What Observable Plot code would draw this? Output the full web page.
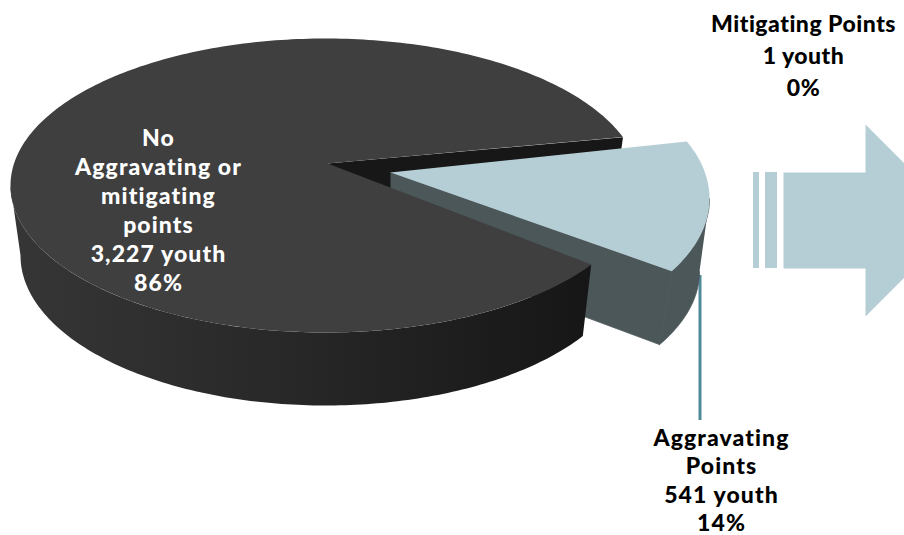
<!DOCTYPE html>
<html>
<head>
<meta charset="utf-8">
<style>
html,body{margin:0;padding:0;background:#fff;overflow:hidden}
svg text{letter-spacing:1.1px}
svg .tight text{letter-spacing:.5px}
</style>
<script src="https://cdn.jsdelivr.net/npm/d3@7"></script>
<script src="https://cdn.jsdelivr.net/npm/@observablehq/plot@0.6"></script>
</head>
<body>
<script>
// Youth counts and stated percentages per scoring outcome
const categories = ["No Aggravating or mitigating points", "Aggravating Points", "Mitigating Points"];
const youth = [3227, 541, 1];
const percents = [86, 14, 0];

const total = d3.sum(youth);
const sweep = youth.map(v => (v / total) * 360);

// Tilted-disc geometry: ellipse parameters for the top and underside of each slice
const rad = Math.PI / 180;
const mainStart = -19.2;
const mainFrom = mainStart + sweep[1];
const mainTo = mainStart + 360 - sweep[2];
const mainTop = {cx: 325, cy: 185, rx: 315, ry: 147};
const mainBase = {cx: 325, cy: 255, rx: 305, ry: 150};
const mainApex = [327, 163];

// The aggravating slice is pulled out, with a slightly different foreshortening
const wedgeStart = -22.5;
const wedgeEnd = wedgeStart + sweep[1];
const wedgeTop = {cx: 412, cy: 198, rx: 297, ry: 149};
const wedgeBase = {cx: 384, cy: 271, rx: 315, ry: 150};
const wedgeApex = [390, 172];
const depth = 72;

const onEllipse = (e, t) => ({x: e.cx + e.rx * Math.cos(t * rad), y: e.cy + e.ry * Math.sin(t * rad)});
const arc = (e, a, b, step = 1) => {
  const n = Math.max(1, Math.ceil(Math.abs(b - a) / step));
  return d3.range(n + 1).map(i => onEllipse(e, a + ((b - a) * i) / n));
};
const pt = ([x, y], dy = 0) => ({x, y: y + dy});

// Rims run from the slice's cut to the point where the disc's outline turns away
const mainRim = [...arc(mainTop, mainFrom, 180), ...arc(mainBase, 180, mainFrom)];
const mainCut = [pt(mainApex), onEllipse(mainTop, mainStart),
  onEllipse(mainBase, mainStart), pt(mainApex, depth)];
const mainFace = [pt(mainApex), ...arc(mainTop, mainFrom, mainTo)];
const wedgeRim = [...arc(wedgeTop, 0, wedgeEnd), ...arc(wedgeBase, wedgeEnd, 0)];
const wedgeCut = [pt(wedgeApex), onEllipse(wedgeTop, wedgeEnd),
  onEllipse(wedgeBase, wedgeEnd), pt(wedgeApex, depth)];
const wedgeFace = [pt(wedgeApex), ...arc(wedgeTop, wedgeStart, wedgeEnd)];

// Block arrow pointing right off the page, preceded by two stripes
const arrowFill = "#b5ced5";
const arrow = {left: 783, neck: 865, top: 172, bottom: 268, headTop: 124, headBottom: 316};
const arrowShape = [
  [arrow.left, arrow.top], [arrow.neck, arrow.top], [arrow.neck, arrow.headTop],
  [arrow.neck + (arrow.headBottom - arrow.headTop) / 2, (arrow.headTop + arrow.headBottom) / 2],
  [arrow.neck, arrow.headBottom], [arrow.neck, arrow.bottom], [arrow.left, arrow.bottom]
].map(([x, y]) => ({x, y}));
const stripes = [{x1: 753, x2: 759}, {x1: 765, x2: 777}];

// Horizontal shading of the large slice's rim, darkening toward the cut
const rimGradient = () => {
  const defs = d3.create("svg:defs");
  const g = defs.append("linearGradient").attr("id", "rim-shade")
    .attr("gradientUnits", "userSpaceOnUse")
    .attr("x1", 10).attr("x2", 590).attr("y1", 0).attr("y2", 0);
  [[0, "#363636"], [0.5, "#272727"], [1, "#161616"]].forEach(([o, c]) =>
    g.append("stop").attr("offset", o).attr("stop-color", c));
  return defs.node();
};

const polygon = (points, fill, stroke = "none") =>
  Plot.line(points, {x: "x", y: "y", fill, stroke, strokeWidth: 0.8});

const fmt = d3.format(",");
const labelFont = {fontFamily: "Lato", fontWeight: 900, fontSize: 23, textAnchor: "middle", lineAnchor: "middle"};
const label = (text, x, y, lineHeight, fill, className) =>
  Plot.text([text], {...labelFont, x: () => x, y: () => y, text: d => d, lineHeight, fill, className});

const mainLabel = ["No", "Aggravating or", "mitigating", "points", `${fmt(youth[0])} youth`, `${percents[0]}%`].join("\n");
const aggLabel = ["Aggravating", "Points", `${fmt(youth[1])} youth`, `${percents[1]}%`].join("\n");
const mitLabel = [categories[2], `${fmt(youth[2])} youth`, `${percents[2]}%`].join("\n");

const chart = Plot.plot({
  width: 904,
  height: 535,
  margin: 0,
  x: {domain: [0, 904], range: [0, 904], axis: null},
  y: {domain: [0, 535], range: [0, 535], axis: null},
  style: {background: "#fff"},
  marks: [
    rimGradient,
    // leader from the pulled-out slice to its label
    Plot.ruleX([699.5], {y1: 275, y2: 420, stroke: "#4f8a99", strokeWidth: 3}),
    polygon(mainCut, "#171717"),
    polygon(wedgeCut, "#4b5759", "#4b5759"),
    polygon(wedgeRim, "#4b5759", "#4b5759"),
    polygon(wedgeFace, arrowFill),
    polygon(mainRim, "url(#rim-shade)"),
    polygon(mainFace, "#3f3f3f"),
    Plot.rect(stripes, {x1: "x1", x2: "x2", y1: () => arrow.top, y2: () => arrow.bottom, fill: arrowFill}),
    polygon(arrowShape, arrowFill),
    label(mainLabel, 158, 209, 1.26, "#fff"),
    label(mitLabel, 803, 53.5, 1.39, "#000", "tight"),
    label(aggLabel, 721, 479, 1.24, "#000")
  ]
});
document.body.appendChild(chart);
</script>
</body>
</html>
